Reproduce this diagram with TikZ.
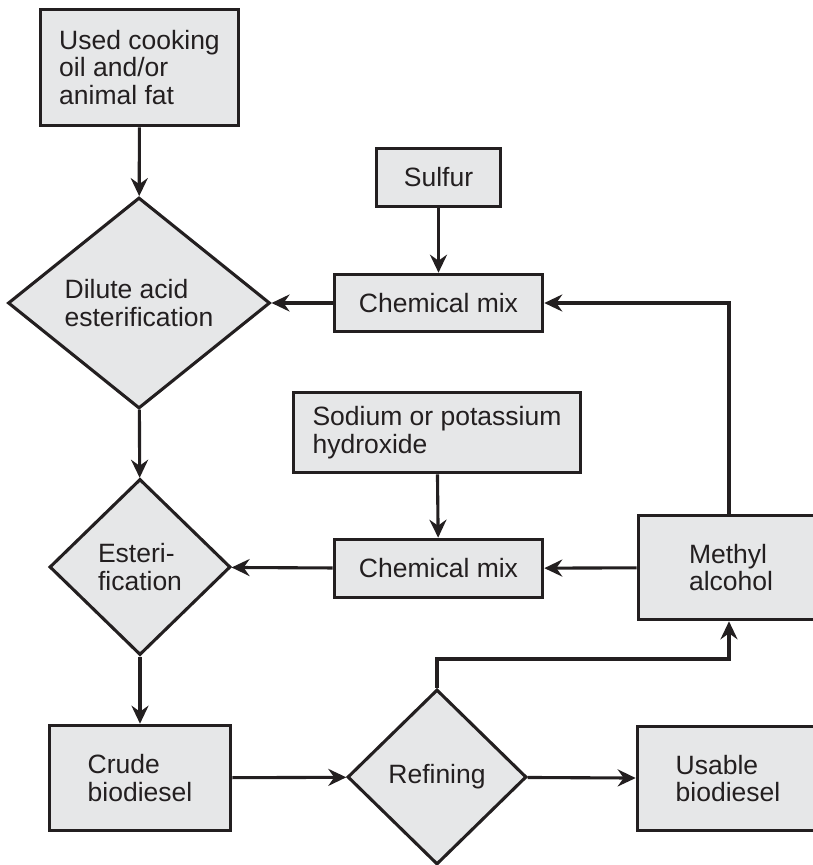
\documentclass[tikz,border=0pt]{standalone}
\usepackage{fontspec}
\setmainfont{Liberation Sans}
\usetikzlibrary{shapes.geometric,arrows.meta}
\definecolor{ink}{HTML}{231F20}
\definecolor{boxfill}{HTML}{E6E7E8}
\begin{document}
\begin{tikzpicture}[x=1pt,y=-1pt,
  every node/.style={font=\fontsize{26.5}{27.5}\selectfont, text=ink, align=left, inner sep=0pt},
  procbox/.style={draw=ink, fill=boxfill, line width=3.6pt, rectangle},
  decision/.style={draw=ink, fill=boxfill, line width=3.1pt, diamond},
  flow/.style={draw=ink, line width=3.1pt, -{Stealth[length=18pt,width=17pt,inset=6pt]}}
]
\useasboundingbox (0,0) rectangle (813,865);
\node[procbox, minimum width=198pt, minimum height=116pt] (oil) at (139.5,67.5) {Used cooking\\oil and/or\\animal fat};
\node[decision, minimum width=262pt, minimum height=211pt] (dil) at (139,303) {Dilute acid\\esterification};
\node[procbox, minimum width=124pt, minimum height=58pt] (sulfur) at (438.5,177.5) {Sulfur};
\node[procbox, minimum width=208pt, minimum height=57pt] (mixa) at (438.5,303) {Chemical mix};
\node[procbox, minimum width=287pt, minimum height=80pt] (sodium) at (437,432.5) {Sodium or potassium\\hydroxide};
\node[procbox, minimum width=208pt, minimum height=58pt] (mixb) at (438.5,568.5) {Chemical mix};
\node[decision, minimum width=181pt, minimum height=176pt] (est) at (140,567) {Esteri-\\fication};
\node[procbox, minimum width=185pt, minimum height=104pt] (methyl) at (731,567.5) {Methyl\\alcohol};
\node[procbox, minimum width=181pt, minimum height=105pt] (crude) at (140,778) {Crude\\biodiesel};
\node[decision, minimum width=179pt, minimum height=175pt] (ref) at (437,777) {Refining};
\node[procbox, minimum width=181pt, minimum height=104pt] (usable) at (728,778.5) {Usable\\biodiesel};

\draw[flow] (oil) -- (dil);
\draw[flow] (dil) -- (est);
\draw[flow] (est) -- (crude);
\draw[flow] (sulfur) -- (mixa);
\draw[flow] (mixa) -- (dil);
\draw[flow] (sodium) -- (mixb);
\draw[flow] (mixb) -- (est);
\draw[flow] (methyl) -- (mixb);
\draw[flow] ([xshift=-2pt]methyl.north) |- (mixa.east);
\draw[flow] (crude) -- (ref);
\draw[flow] (ref) -- (usable);
\draw[flow] (ref.north) -- ++(0,-29) -| ([xshift=-2pt]methyl.south);
\end{tikzpicture}
\end{document}
